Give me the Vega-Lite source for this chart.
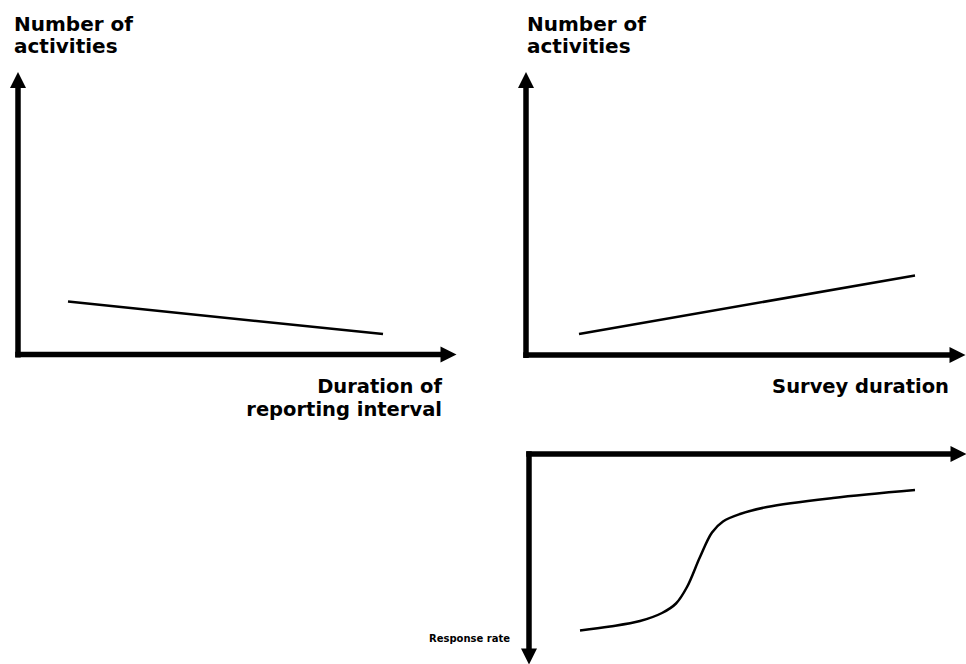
{
  "$schema": "https://vega.github.io/schema/vega-lite/v6.json",
  "width": 966,
  "height": 664,
  "padding": 0,
  "autosize": {"type": "none"},
  "background": "white",
  "config": {"view": {"stroke": null}},
  "datasets": {
    "axes": [
      {"panel": "A", "part": "y", "x": 18, "y": 357.5, "x2": 18, "y2": 86},
      {"panel": "A", "part": "x", "x": 15.25, "y": 354.5, "x2": 442, "y2": 354.5},
      {"panel": "B", "part": "y", "x": 526, "y": 358, "x2": 526, "y2": 86},
      {"panel": "B", "part": "x", "x": 523.25, "y": 355, "x2": 951, "y2": 355},
      {"panel": "C", "part": "x", "x": 526.25, "y": 454, "x2": 952, "y2": 454},
      {"panel": "C", "part": "y", "x": 529, "y": 451.25, "x2": 529, "y2": 651}
    ],
    "arrows": [
      {"panel": "A", "dir": "up", "x": 18, "y": 80},
      {"panel": "A", "dir": "right", "x": 448.5, "y": 354.5},
      {"panel": "B", "dir": "up", "x": 526, "y": 80},
      {"panel": "B", "dir": "right", "x": 957.5, "y": 355},
      {"panel": "C", "dir": "right", "x": 958.5, "y": 454},
      {"panel": "C", "dir": "down", "x": 529, "y": 656.5}
    ],
    "curves": [
      {"series": "A", "i": 0, "x": 68, "y": 301.5},
      {"series": "A", "i": 1, "x": 383, "y": 334},
      {"series": "B", "i": 0, "x": 579, "y": 334},
      {"series": "B", "i": 1, "x": 915, "y": 275.5},
      {"series": "C", "i": 0, "x": 580, "y": 630.5},
      {"series": "C", "i": 1, "x": 610, "y": 626.5},
      {"series": "C", "i": 2, "x": 640, "y": 621},
      {"series": "C", "i": 3, "x": 662, "y": 613},
      {"series": "C", "i": 4, "x": 676, "y": 603.5},
      {"series": "C", "i": 5, "x": 687, "y": 587},
      {"series": "C", "i": 6, "x": 700, "y": 557},
      {"series": "C", "i": 7, "x": 712, "y": 532.5},
      {"series": "C", "i": 8, "x": 723, "y": 521.5},
      {"series": "C", "i": 9, "x": 740, "y": 514},
      {"series": "C", "i": 10, "x": 767, "y": 507},
      {"series": "C", "i": 11, "x": 833, "y": 498},
      {"series": "C", "i": 12, "x": 915, "y": 490}
    ],
    "labelsLeft": [
      {"text": "Number of", "x": 14, "y": 31},
      {"text": "activities", "x": 14, "y": 53},
      {"text": "Number of", "x": 527, "y": 31},
      {"text": "activities", "x": 527, "y": 53}
    ],
    "labelsRight": [
      {"text": "Duration of", "x": 442, "y": 392.5},
      {"text": "reporting interval", "x": 442, "y": 415.5},
      {"text": "Survey duration", "x": 949, "y": 393}
    ],
    "labelsSmall": [
      {"text": "Response rate", "x": 510, "y": 641.5}
    ]
  },
  "layer": [
    {
      "data": {"name": "axes"},
      "mark": {"type": "rule", "color": "black", "strokeWidth": 5.5, "strokeCap": "butt"},
      "encoding": {
        "x": {"field": "x", "type": "quantitative", "scale": {"domain": [0, 966], "nice": false, "zero": false}, "axis": null},
        "y": {"field": "y", "type": "quantitative", "scale": {"domain": [0, 664], "nice": false, "zero": false, "reverse": true}, "axis": null},
        "x2": {"field": "x2"},
        "y2": {"field": "y2"}
      }
    },
    {
      "data": {"name": "arrows"},
      "mark": {"type": "point", "filled": true, "color": "black", "opacity": 1, "size": 256},
      "encoding": {
        "x": {"field": "x", "type": "quantitative"},
        "y": {"field": "y", "type": "quantitative"},
        "shape": {
          "field": "dir",
          "type": "nominal",
          "scale": {"domain": ["up", "right", "down"], "range": ["M0,-1L1,1L-1,1Z", "M1,0L-1,-1L-1,1Z", "M0,1L-1,-1L1,-1Z"]},
          "legend": null
        }
      }
    },
    {
      "data": {"name": "curves"},
      "mark": {"type": "line", "color": "black", "strokeWidth": 2.5, "interpolate": "catmull-rom"},
      "encoding": {
        "x": {"field": "x", "type": "quantitative"},
        "y": {"field": "y", "type": "quantitative"},
        "detail": {"field": "series", "type": "nominal"},
        "order": {"field": "i", "type": "quantitative"}
      }
    },
    {
      "data": {"name": "labelsLeft"},
      "mark": {"type": "text", "align": "left", "baseline": "alphabetic", "font": "DejaVu Sans", "fontWeight": "bold", "fontSize": 20, "color": "black"},
      "encoding": {
        "x": {"field": "x", "type": "quantitative"},
        "y": {"field": "y", "type": "quantitative"},
        "text": {"field": "text"}
      }
    },
    {
      "data": {"name": "labelsRight"},
      "mark": {"type": "text", "align": "right", "baseline": "alphabetic", "font": "DejaVu Sans", "fontWeight": "bold", "fontSize": 19.5, "color": "black"},
      "encoding": {
        "x": {"field": "x", "type": "quantitative"},
        "y": {"field": "y", "type": "quantitative"},
        "text": {"field": "text"}
      }
    },
    {
      "data": {"name": "labelsSmall"},
      "mark": {"type": "text", "align": "right", "baseline": "alphabetic", "font": "DejaVu Sans", "fontWeight": "bold", "fontSize": 10, "color": "black"},
      "encoding": {
        "x": {"field": "x", "type": "quantitative"},
        "y": {"field": "y", "type": "quantitative"},
        "text": {"field": "text"}
      }
    }
  ]
}
